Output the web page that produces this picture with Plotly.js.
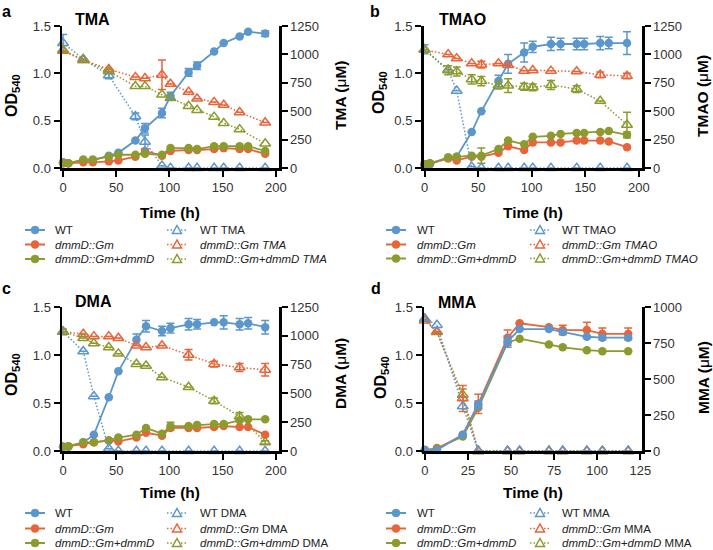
<!DOCTYPE html>
<html>
<head>
<meta charset="utf-8">
<script src="https://cdn.plot.ly/plotly-3.0.1.min.js"></script>
<style>
  body { margin: 0; background: #fff; }
  #chart { width: 713px; height: 550px; }
</style>
</head>
<body>
<div id="chart"></div>
<script>
// ---- data ----
// panel a: TMA
var timeA = [0, 5, 19, 28, 43, 52, 68, 77, 93, 101, 118, 126, 142, 151, 166, 174, 190];
var wtA = [0.06, 0.05, 0.08, 0.08, 0.13, 0.16, 0.29, 0.42, 0.58, 0.76, 1.01, 1.08, 1.23, 1.32, 1.39, 1.44, 1.42];
var wtAErr = [0, 0, 0, 0, 0, 0, 0, 0.05, 0.05, 0.04, 0.04, 0.04, 0, 0, 0, 0, 0.03];
var gmA = [0.05, 0.05, 0.06, 0.06, 0.07, 0.08, 0.12, 0.18, 0.13, 0.18, 0.19, 0.19, 0.2, 0.21, 0.2, 0.2, 0.15];
var compA = [0.05, 0.05, 0.09, 0.09, 0.12, 0.14, 0.14, 0.15, 0.14, 0.21, 0.21, 0.2, 0.23, 0.23, 0.23, 0.23, 0.18];
var timeA2 = [0, 19, 43, 68, 77, 93, 101, 118, 126, 142, 151, 166, 190];
var wtTMA = [1100, 960, 815, 455, 230, 20, 0, 0, 0, 0, 0, 0, 0];
var wtTMAErr = [75, 0, 30, 30, 60, 0, 0, 0, 0, 0, 0, 0, 0];
var gmTMA = [1030, 950, 870, 800, 790, 820, 740, 670, 610, 580, 555, 490, 400];
var gmTMAErr = [0, 0, 0, 0, 0, 130, 0, 0, 0, 0, 0, 0, 0];
var compTMA = [1040, 950, 850, 720, 720, 645, 615, 545, 510, 450, 395, 340, 215];

// panel b: TMAO
var timeB = [0, 5, 22, 30, 44, 53, 69, 78, 93, 101, 118, 127, 142, 149, 164, 172, 189];
var wtB = [0.035, 0.04, 0.11, 0.12, 0.38, 0.6, 0.92, 1.1, 1.22, 1.28, 1.31, 1.31, 1.31, 1.31, 1.32, 1.32, 1.32];
var wtBErr = [0, 0, 0, 0, 0, 0, 0.06, 0.1, 0.1, 0.06, 0.07, 0.06, 0.06, 0.06, 0.07, 0.06, 0.12];
var gmB = [0.04, 0.05, 0.1, 0.08, 0.12, 0.12, 0.16, 0.23, 0.19, 0.27, 0.27, 0.27, 0.29, 0.29, 0.29, 0.28, 0.22];
var compB = [0.04, 0.05, 0.11, 0.12, 0.13, 0.13, 0.2, 0.29, 0.25, 0.33, 0.34, 0.36, 0.37, 0.37, 0.38, 0.39, 0.35];
var compBErr = [0, 0, 0, 0, 0, 0.08, 0, 0, 0, 0, 0, 0, 0, 0, 0, 0, 0.03];
var timeB2 = [0, 22, 30, 44, 53, 69, 78, 93, 101, 118, 142, 164, 189];
var wtTMAO = [1045, 865, 680, 10, 0, 0, 0, 0, 0, 0, 0, 0, 0];
var wtTMAOErr = [40, 0, 0, 0, 0, 0, 0, 0, 0, 0, 0, 0, 0];
var gmTMAO = [1040, 1000, 965, 920, 910, 920, 905, 855, 860, 855, 850, 820, 810];
var gmTMAOErr = [0, 0, 0, 0, 30, 0, 0, 0, 0, 0, 0, 25, 25];
var compTMAO = [1040, 860, 850, 780, 765, 725, 725, 715, 710, 730, 695, 590, 380];
var compTMAOErr = [0, 40, 40, 40, 40, 30, 60, 30, 30, 40, 30, 0, 110];

// panel c: DMA
var timeC = [0, 5, 19, 29, 43, 52, 69, 78, 93, 101, 118, 126, 142, 151, 166, 174, 190];
var wtC = [0.045, 0.045, 0.09, 0.17, 0.56, 0.83, 1.16, 1.3, 1.25, 1.28, 1.32, 1.32, 1.34, 1.34, 1.32, 1.33, 1.29];
var wtCErr = [0, 0, 0, 0, 0, 0, 0.06, 0.06, 0.05, 0.05, 0.06, 0.05, 0, 0.07, 0.06, 0.06, 0.07];
var gmC = [0.045, 0.05, 0.07, 0.09, 0.11, 0.1, 0.14, 0.19, 0.16, 0.24, 0.24, 0.24, 0.25, 0.26, 0.25, 0.25, 0.17];
var compC = [0.045, 0.05, 0.09, 0.09, 0.11, 0.14, 0.17, 0.24, 0.18, 0.26, 0.26, 0.27, 0.28, 0.28, 0.32, 0.33, 0.33];
var compCErr = [0, 0, 0, 0, 0, 0, 0, 0, 0, 0.04, 0, 0, 0, 0, 0, 0, 0];
var timeC2 = [0, 19, 29, 43, 52, 69, 78, 93, 118, 142, 166, 190];
var wtDMA = [1035, 865, 475, 20, 0, 0, 0, 0, 0, 0, 0, 0];
var wtDMAErr = [25, 0, 0, 0, 0, 0, 0, 0, 0, 0, 0, 0];
var gmDMA = [1035, 1015, 995, 995, 980, 915, 900, 915, 835, 755, 725, 705];
var gmDMAErr = [0, 0, 0, 0, 0, 0, 0, 0, 45, 25, 35, 55];
var compDMA = [1035, 980, 935, 900, 845, 755, 740, 640, 555, 435, 300, 75];
var compDMAErr = [0, 0, 0, 0, 0, 0, 0, 0, 0, 25, 35, 15];

// panel d: MMA
var timeD = [0, 7, 22, 31, 48, 55, 72, 80, 94, 103, 118];
var wtD = [0.01, 0.01, 0.17, 0.48, 1.14, 1.27, 1.27, 1.24, 1.19, 1.18, 1.18];
var wtDErr = [0, 0, 0, 0.04, 0.06, 0, 0, 0, 0, 0, 0];
var gmD = [0.01, 0.02, 0.17, 0.49, 1.18, 1.33, 1.29, 1.26, 1.26, 1.22, 1.22];
var gmDErr = [0, 0, 0, 0.1, 0.08, 0, 0, 0.05, 0.08, 0.06, 0.06];
var compD = [0.01, 0.03, 0.15, 0.45, 1.13, 1.17, 1.11, 1.08, 1.05, 1.04, 1.04];
var wtMMA = [920, 875, 310, 0, 0, 0, 0, 0, 0, 0, 0];
var gmMMA = [905, 830, 365, 0, 0, 0, 0, 0, 0, 0, 0];
var gmMMAErr = [0, 0, 90, 0, 0, 0, 0, 0, 0, 0, 0];
var compMMA = [915, 825, 390, 0, 0, 0, 0, 0, 0, 0, 0];
var compMMAErr = [0, 0, 40, 0, 0, 0, 0, 0, 0, 0, 0];

var strainNames = ['WT', '<i>dmmD::Gm</i>', '<i>dmmD::Gm+dmmD</i>'];
var colors = ['#5b97cc', '#e8643a', '#8c9a2e'];
var FONT = 'Liberation Sans, Arial, Helvetica, sans-serif';
var DOTS = '1.5px,2px';
var W = 713, H = 550;

function px(x) { return x / W; }
function py(y) { return 1 - y / H; }

function growth(t, y, err, color, xa, ya) {
	return {
		x: t, y: y, xaxis: xa, yaxis: ya,
		mode: 'lines+markers', cliponaxis: false, showlegend: false,
		line: {color: color, width: 1.8},
		marker: {color: color, size: 8.5, symbol: 'circle'},
		error_y: {type: 'data', array: err || [], visible: !!err, color: color, thickness: 1.5, width: 4}
	};
}

function substrate(t, y, err, color, xa, ya) {
	return {
		x: t, y: y, xaxis: xa, yaxis: ya,
		mode: 'lines+markers', cliponaxis: false, showlegend: false,
		line: {color: color, width: 1.5, dash: DOTS},
		marker: {color: color, size: 9.5, symbol: 'triangle-up-open', line: {color: color, width: 1.5}},
		error_y: {type: 'data', array: err || [], visible: !!err, color: color, thickness: 1.5, width: 4}
	};
}

var data = [
	growth(timeA, wtA, wtAErr, colors[0], 'x', 'y'),
	growth(timeA, gmA, null, colors[1], 'x', 'y'),
	growth(timeA, compA, null, colors[2], 'x', 'y'),
	substrate(timeA2, wtTMA, wtTMAErr, colors[0], 'x', 'y2'),
	substrate(timeA2, gmTMA, gmTMAErr, colors[1], 'x', 'y2'),
	substrate(timeA2, compTMA, null, colors[2], 'x', 'y2'),

	growth(timeB, wtB, wtBErr, colors[0], 'x2', 'y3'),
	growth(timeB, gmB, null, colors[1], 'x2', 'y3'),
	growth(timeB, compB, compBErr, colors[2], 'x2', 'y3'),
	substrate(timeB2, wtTMAO, wtTMAOErr, colors[0], 'x2', 'y4'),
	substrate(timeB2, gmTMAO, gmTMAOErr, colors[1], 'x2', 'y4'),
	substrate(timeB2, compTMAO, compTMAOErr, colors[2], 'x2', 'y4'),

	growth(timeC, wtC, wtCErr, colors[0], 'x3', 'y5'),
	growth(timeC, gmC, null, colors[1], 'x3', 'y5'),
	growth(timeC, compC, compCErr, colors[2], 'x3', 'y5'),
	substrate(timeC2, wtDMA, wtDMAErr, colors[0], 'x3', 'y6'),
	substrate(timeC2, gmDMA, gmDMAErr, colors[1], 'x3', 'y6'),
	substrate(timeC2, compDMA, compDMAErr, colors[2], 'x3', 'y6'),

	// in panel d the blue series sits on top
	growth(timeD, compD, null, colors[2], 'x4', 'y7'),
	growth(timeD, gmD, gmDErr, colors[1], 'x4', 'y7'),
	growth(timeD, wtD, wtDErr, colors[0], 'x4', 'y7'),
	substrate(timeD, compMMA, compMMAErr, colors[2], 'x4', 'y8'),
	substrate(timeD, gmMMA, gmMMAErr, colors[1], 'x4', 'y8'),
	substrate(timeD, wtMMA, null, colors[0], 'x4', 'y8')
];

// ---- axes ----
var tickFont = {family: FONT, size: 13, color: '#333'};
function baseAxis(extra) {
	var ax = {
		showline: true, linecolor: '#000', linewidth: 2.5,
		ticks: 'outside', ticklen: 6, tickwidth: 2, tickcolor: '#000',
		showgrid: false, zeroline: false, fixedrange: true,
		tickfont: tickFont
	};
	for (var k in extra) ax[k] = extra[k];
	return ax;
}

var topDom = [py(168), py(26)];
var botDom = [py(451), py(307)];
var odTicks = {tickvals: [0, 0.5, 1, 1.5], ticktext: ['0.0', '0.5', '1.0', '1.5'], range: [0, 1.5]};

var layout = {
	width: W, height: H,
	margin: {l: 0, r: 0, t: 0, b: 0},
	paper_bgcolor: '#fff', plot_bgcolor: 'rgba(0,0,0,0)',
	showlegend: false,
	font: {family: FONT},
	xaxis: baseAxis({domain: [px(62), px(279)], range: [-1, 203], anchor: 'y', tickvals: [0, 50, 100, 150, 200]}),
	yaxis: baseAxis(Object.assign({domain: topDom, anchor: 'x'}, odTicks)),
	yaxis2: baseAxis({overlaying: 'y', side: 'right', anchor: 'x', range: [0, 1250], tickvals: [0, 250, 500, 750, 1000, 1250]}),

	xaxis2: baseAxis({domain: [px(423.5), px(642)], range: [-1, 203], anchor: 'y3', tickvals: [0, 50, 100, 150, 200]}),
	yaxis3: baseAxis(Object.assign({domain: topDom, anchor: 'x2'}, odTicks)),
	yaxis4: baseAxis({overlaying: 'y3', side: 'right', anchor: 'x2', range: [0, 1250], tickvals: [0, 250, 500, 750, 1000, 1250]}),

	xaxis3: baseAxis({domain: [px(62), px(279)], range: [-1, 203], anchor: 'y5', tickvals: [0, 50, 100, 150, 200]}),
	yaxis5: baseAxis(Object.assign({domain: botDom, anchor: 'x3'}, odTicks)),
	yaxis6: baseAxis({overlaying: 'y5', side: 'right', anchor: 'x3', range: [0, 1250], tickvals: [0, 250, 500, 750, 1000, 1250]}),

	xaxis4: baseAxis({domain: [px(424), px(642)], range: [-0.5, 126], anchor: 'y7', tickvals: [0, 25, 50, 75, 100, 125]}),
	yaxis7: baseAxis(Object.assign({domain: botDom, anchor: 'x4'}, odTicks)),
	yaxis8: baseAxis({overlaying: 'y7', side: 'right', anchor: 'x4', range: [0, 1000], tickvals: [0, 250, 500, 750, 1000]}),

	annotations: [],
	shapes: []
};

function label(text, x, y, size, opts) {
	var a = {
		text: text, xref: 'paper', yref: 'paper', x: px(x), y: py(y),
		xanchor: 'center', yanchor: 'middle', showarrow: false,
		font: {family: FONT, size: size, color: '#000'}
	};
	for (var k in opts) a[k] = opts[k];
	layout.annotations.push(a);
}

// panel letters, compound names and axis titles
var panels = [
	{letter: 'a', lx: 6, ly: 11, name: 'TMA', nx: 92, ny: 19, odx: 12, ody: 96, rx: 340, ry: 96, tx: 170, ty: 212},
	{letter: 'b', lx: 375, ly: 11, name: 'TMAO', nx: 462, ny: 19, odx: 380, ody: 93, rx: 702, ry: 96, tx: 533, ty: 212},
	{letter: 'c', lx: 6, ly: 288, name: 'DMA', nx: 93, ny: 301, odx: 12, ody: 375, rx: 340, ry: 374, tx: 170, ty: 492},
	{letter: 'd', lx: 376, ly: 288, name: 'MMA', nx: 457, ny: 302, odx: 381, ody: 378, rx: 703, ry: 378, tx: 533, ty: 492}
];
panels.forEach(function(p) {
	label('<b>' + p.letter + '</b>', p.lx, p.ly, 16);
	label('<b>' + p.name + '</b>', p.nx, p.ny, 16);
	label('<b>OD<sub>540</sub></b>', p.odx, p.ody, 16, {textangle: -90});
	label('<b>' + p.name + ' (</b>μ<b>M)</b>', p.rx, p.ry, 15.5, {textangle: -90});
	label('<b>Time (h)</b>', p.tx, p.ty, 15.5);
});

// legends under each panel
var legends = [
	{rows: [230, 244.5, 259], lx: 35, ltx: 53, rx: 177, rtx: 198,
	 names: ['WT TMA', '<i>dmmD::Gm TMA</i>', '<i>dmmD::Gm+dmmD TMA</i>']},
	{rows: [230, 244.5, 258.5], lx: 396, ltx: 415, rx: 540, rtx: 560,
	 names: ['WT TMAO', '<i>dmmD::Gm TMAO</i>', '<i>dmmD::Gm+dmmD TMAO</i>']},
	{rows: [513, 528.5, 543], lx: 35, ltx: 53, rx: 177, rtx: 198,
	 names: ['WT DMA', '<i>dmmD::Gm</i> DMA', '<i>dmmD::Gm+dmmD</i> DMA']},
	{rows: [513, 528.5, 543], lx: 396, ltx: 415, rx: 540, rtx: 560,
	 names: ['WT MMA', '<i>dmmD::Gm</i> MMA', '<i>dmmD::Gm+dmmD</i> MMA']}
];
legends.forEach(function(g) {
	for (var i = 0; i < 3; i++) {
		var y = g.rows[i], c = colors[i];
		layout.shapes.push({type: 'line', xref: 'paper', yref: 'paper',
			x0: px(g.lx - 10), x1: px(g.lx + 10), y0: py(y), y1: py(y),
			line: {color: c, width: 2}});
		layout.shapes.push({type: 'circle', xref: 'paper', yref: 'paper',
			xsizemode: 'pixel', ysizemode: 'pixel', xanchor: px(g.lx), yanchor: py(y),
			x0: -4, x1: 4, y0: -4, y1: 4, fillcolor: c, line: {color: c, width: 0.5}});
		label(strainNames[i], g.ltx, y, 11.5, {xanchor: 'left', font: {family: FONT, size: 11.5, color: '#222'}});

		layout.shapes.push({type: 'line', xref: 'paper', yref: 'paper',
			x0: px(g.rx - 10), x1: px(g.rx + 10), y0: py(y), y1: py(y),
			line: {color: c, width: 1.5, dash: DOTS}});
		layout.shapes.push({type: 'path', xref: 'paper', yref: 'paper',
			xsizemode: 'pixel', ysizemode: 'pixel', xanchor: px(g.rx), yanchor: py(y),
			path: 'M-4.5,-3.5L4.5,-3.5L0,4.5Z', fillcolor: '#fff', line: {color: c, width: 1.5}});
		label(g.names[i], g.rtx, y, 11.5, {xanchor: 'left', font: {family: FONT, size: 11.5, color: '#222'}});
	}
});

Plotly.newPlot('chart', data, layout, {displayModeBar: false, staticPlot: true});
</script>
</body>
</html>
